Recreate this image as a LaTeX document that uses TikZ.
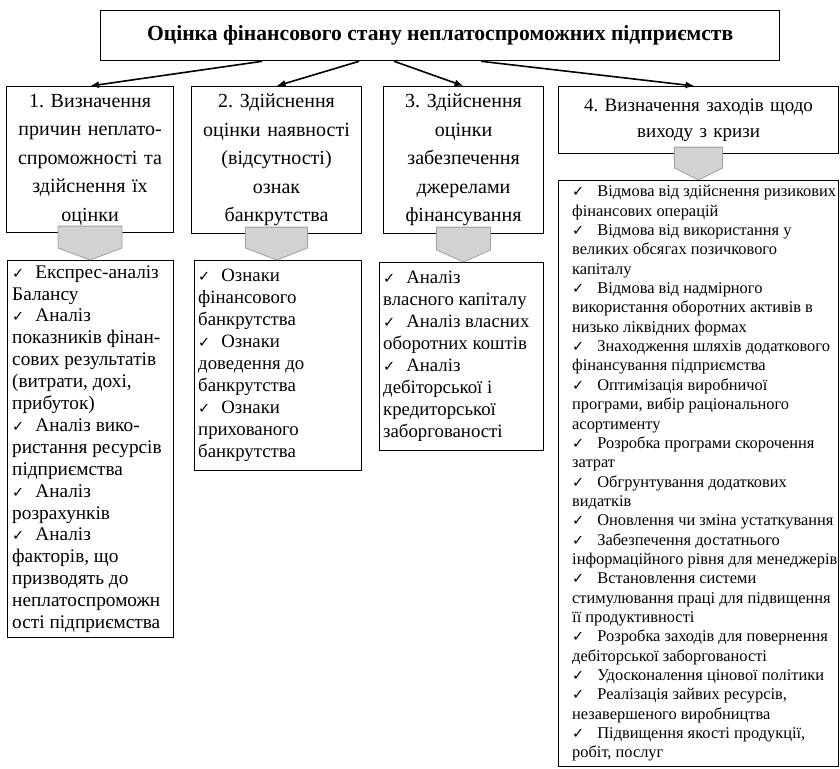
\documentclass[tikz,border=0pt]{standalone}
\usepackage{fontspec}
\setmainfont{Liberation Serif}
\newfontfamily\checkfont{DejaVu Sans}
\usetikzlibrary{arrows.meta,calc}
\frenchspacing

\newcommand{\chk}{{\checkfont\fontsize{14.5}{14.5}\selectfont ✓}\hspace{\chkgap}}
\newcommand{\chkgap}{11pt}
\newcommand{\blockarrow}[3]{%
  \filldraw[blockfill] ($(#1.south)+(-#3,-7)$) -- ($(#1.south)+(#3,-7)$)
    -- ($(#1.south |- #2.north)+(#3,-12)$) -- (#1.south |- #2.north)
    -- ($(#1.south |- #2.north)+(-#3,-12)$) -- cycle;}

\tikzset{
  box/.style={draw, line width=1.1pt, anchor=north west, inner ysep=0pt,
    inner xsep=4pt, align=center, font=\fontsize{20}{28.5}\selectfont},
  frame/.style={draw, line width=1.1pt, anchor=north west, inner sep=0pt},
  listtext/.style={anchor=west, inner sep=0pt, align=left,
    font=\fontsize{18.8}{22}\selectfont},
  smalltext/.style={listtext, font=\fontsize{16.4}{19.35}\selectfont\renewcommand{\chkgap}{13pt}},
  link/.style={-{Latex[length=9pt,width=7pt]}, line width=1.6pt},
  blockfill/.style={fill=gray!35, draw=gray!75, line width=0.8pt}
}

\begin{document}
\begin{tikzpicture}[x=1pt, y=-1pt]
  \useasboundingbox (0,0) rectangle (840,768);

  % Title
  \node[box, line width=1.3pt, minimum width=679pt, minimum height=50pt,
    font=\bfseries\fontsize{21.6}{26}\selectfont] (title) at (100,10)
    {Оцінка фінансового стану неплатоспроможних підприємств};

  % Stages
  \node[box, minimum width=167pt, minimum height=146pt, text width=159pt] (stage1) at (6,86)
    {1. Визначення\\ причин неплато-\\ спроможності та\\ здійснення їх\\ оцінки};
  \node[box, minimum width=170pt, minimum height=147pt, text width=162pt] (stage2) at (191,86)
    {2. Здійснення\\ оцінки наявності\\ (відсутності)\\ ознак\\ банкрутства};
  \node[box, minimum width=160pt, minimum height=147pt, text width=152pt] (stage3) at (383,86)
    {3. Здійснення\\ оцінки\\ забезпечення\\ джерелами\\ фінансування};
  \node[box, minimum width=280pt, minimum height=67pt, text width=272pt,
    font=\fontsize{19}{26}\selectfont] (stage4) at (558,86)
    {4. Визначення заходів щодо\\ виходу з кризи};

  % Lists
  \node[frame, minimum width=166pt, minimum height=377pt] (list1) at (7,260) {};
  \node[listtext, xshift=5pt, font=\fontsize{19.3}{21.9}\selectfont] (list1text) at (list1.west)
    {\chk Експрес-аналіз\\ Балансу\\ \chk Аналіз\\ показників фінан-\\ сових результатів\\
     (витрати, дохі,\\ прибуток)\\ \chk Аналіз вико-\\ ристання ресурсів\\ підприємства\\
     \chk Аналіз\\ розрахунків\\ \chk Аналіз\\ факторів, що\\ призводять до\\
     неплатоспроможн\\ ості підприємства};
  \node[frame, minimum width=167pt, minimum height=210pt] (list2) at (194,260) {};
  \node[listtext, xshift=4pt] (list2text) at (list2.west)
    {\chk Ознаки\\ фінансового\\ банкрутства\\ \chk Ознаки\\ доведення до\\ банкрутства\\
     \chk Ознаки\\ прихованого\\ банкрутства};
  \node[frame, minimum width=164pt, minimum height=188pt] (list3) at (379,262) {};
  \node[listtext, xshift=4pt] (list3text) at (list3.west)
    {\chk Аналіз\\ власного капіталу\\ \chk Аналіз власних\\ оборотних коштів\\
     \chk Аналіз\\ дебіторської і\\ кредиторської\\ заборгованості};
  \node[frame, minimum width=280pt, minimum height=586pt] (list4) at (558,180) {};
  \node[smalltext, xshift=14pt] (list4text) at (list4.west)
    {\chk Відмова від здійснення ризикових\\ фінансових операцій\\
     \chk Відмова від використання у\\ великих обсягах позичкового\\ капіталу\\
     \chk Відмова від надмірного\\ використання оборотних активів в\\ низько ліквідних формах\\
     \chk Знаходження шляхів додаткового\\ фінансування підприємства\\
     \chk Оптимізація виробничої\\ програми, вибір раціонального\\ асортименту\\
     \chk Розробка програми скорочення\\ затрат\\
     \chk Обгрунтування додаткових\\ видатків\\
     \chk Оновлення чи зміна устаткування\\
     \chk Забезпечення достатнього\\ інформаційного рівня для менеджерів\\
     \chk Встановлення системи\\ стимулювання праці для підвищення\\ її продуктивності\\
     \chk Розробка заходів для повернення\\ дебіторської заборгованості\\
     \chk Удосконалення цінової політики\\
     \chk Реалізація зайвих ресурсів,\\ незавершеного виробництва\\
     \chk Підвищення якості продукції,\\ робіт, послуг};

  % Connectors
  \draw[link] ($(title.south)+(-178,0)$) -- (stage1.north);
  \draw[link] ($(title.south)+(-81,0)$) -- (stage2.north);
  \draw[link] ($(title.south)+(-46,0)$) -- (stage3.north);
  \draw[link] ($(title.south)+(41,0)$) -- ($(stage4.north)+(-4,0)$);

  \blockarrow{stage1}{list1}{32}
  \blockarrow{stage2}{list2}{31}
  \blockarrow{stage3}{list3}{27}
  \blockarrow{stage4}{list4}{24}
\end{tikzpicture}
\end{document}
